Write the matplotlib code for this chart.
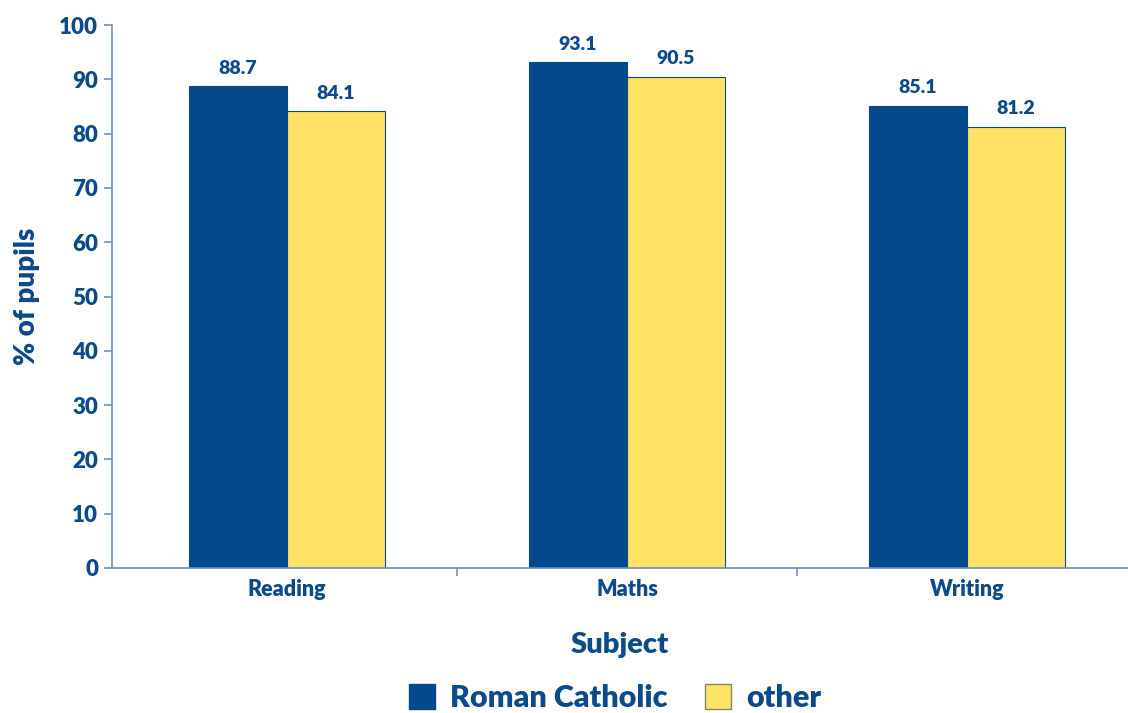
import matplotlib
matplotlib.use("Agg")
import matplotlib.pyplot as plt
import numpy as np
from matplotlib.patches import Patch

categories = ["Reading", "Maths", "Writing"]
roman_catholic = [88.7, 93.1, 85.1]
other = [84.1, 90.5, 81.2]
series_names = ["Roman Catholic", "other"]
yticks = [0, 10, 20, 30, 40, 50, 60, 70, 80, 90, 100]

TXT = "#0b4a8b"
BLUE = "#034a8c"
YELLOW = "#ffe264"
AX = "#6d8fbd"

plt.rcParams['font.family'] = ['Lato', 'DejaVu Sans']
plt.rcParams['font.weight'] = 'heavy'
WT = 'heavy'

fig = plt.figure(figsize=(11.28, 7.13), dpi=100)
W, H = 1128, 713
ax = fig.add_axes([112 / W, 1 - 568 / H, (W - 112) / W, (568 - 25) / H])

x = np.arange(len(categories))
bw = 0.288
b1 = ax.bar(x - bw / 2, roman_catholic, bw, color=BLUE, edgecolor=BLUE, linewidth=0.8)
b2 = ax.bar(x + bw / 2, other, bw, color=YELLOW, edgecolor=BLUE, linewidth=0.8)

for bars, vals in [(b1, roman_catholic), (b2, other)]:
    for r, v in zip(bars, vals):
        ax.annotate(f"{v:.1f}", (r.get_x() + r.get_width() / 2, v),
                    xytext=(0, 7), textcoords="offset points",
                    ha="center", va="bottom", color=TXT, fontsize=14, fontweight=WT)

x0 = -0.5 - 5 / 340
ax.set_xlim(x0, x0 + (W - 112) / 340)
ax.set_ylim(0, 100)
ax.set_yticks(yticks)
ax.set_yticklabels([str(t) for t in yticks])
ax.set_xticks(x)
ax.set_xticklabels(categories, fontweight=WT)
ax.set_xticks([0.5, 1.5], minor=True)
ax.tick_params(axis='x', which='major', length=0, pad=8, labelsize=15.5, labelcolor=TXT)
ax.tick_params(axis='x', which='minor', length=6, color=AX, width=1.2)
ax.tick_params(axis='y', length=6, color=AX, width=1.2, labelsize=16, labelcolor=TXT, pad=4)
for t in ax.get_yticklabels():
    t.set_fontweight(WT)
for s in ['top', 'right']:
    ax.spines[s].set_visible(False)
for s in ['left', 'bottom']:
    ax.spines[s].set_color(AX)
    ax.spines[s].set_linewidth(1.2)
ax.spines['left'].set_bounds(0, 100)

ax.set_ylabel("% of pupils", color=TXT, fontsize=20, fontweight=WT, labelpad=14)
ax.set_xlabel("Subject", color=TXT, fontsize=21, fontweight=WT, labelpad=23)

handles = [Patch(facecolor=BLUE, edgecolor=BLUE), Patch(facecolor=YELLOW, edgecolor="#7a8a6a")]
leg = fig.legend(handles, series_names, loc="center", bbox_to_anchor=(615 / W, 1 - 698 / H),
                 ncol=2, frameon=False, fontsize=22, handlelength=0.85, handleheight=0.85,
                 handletextpad=0.5, columnspacing=1.2)
for t in leg.get_texts():
    t.set_color(TXT)
    t.set_fontweight(WT)

fig.savefig("out.png", dpi=100)
